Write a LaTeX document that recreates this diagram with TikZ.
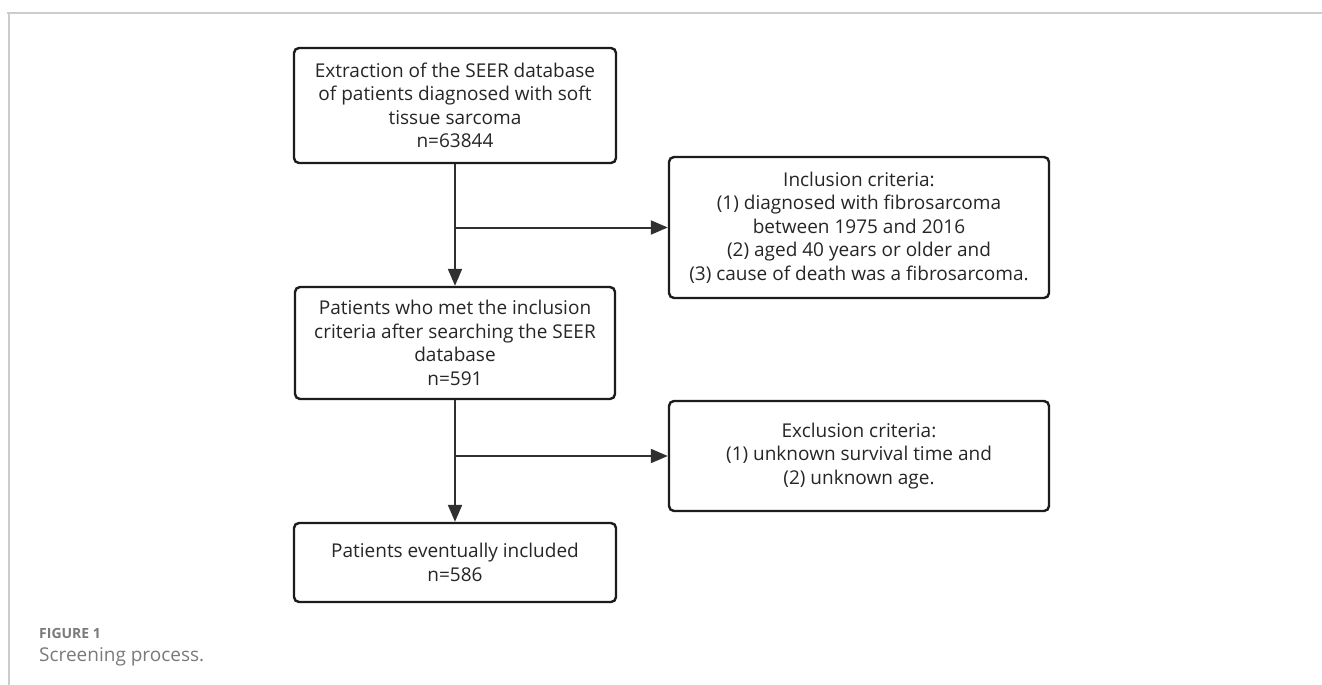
\documentclass[tikz,border=0pt]{standalone}
\usepackage{fontspec}
\setmainfont{Open Sans}
\usetikzlibrary{arrows.meta}
\definecolor{boxline}{HTML}{1C1C1C}
\definecolor{arrowcol}{HTML}{303030}
\definecolor{textcol}{HTML}{262626}
\definecolor{framecol}{HTML}{CCCCCC}
\definecolor{capcol}{HTML}{7A7A7A}
\tikzset{
  flowbox/.style={draw=boxline, line width=2.4pt, rounded corners=5pt, inner sep=0pt,
    align=center, text=textcol, font=\fontsize{19}{23.5}\selectfont},
  flowarrow/.style={draw=arrowcol, line width=2pt, -{Triangle[length=17pt,width=14pt]}}
}
\begin{document}
\begin{tikzpicture}[x=1pt,y=-1pt]
\useasboundingbox (0,0) rectangle (1322,685);
\fill[white] (0,0) rectangle (1322,685);
% frame
\draw[framecol, line width=1.2pt] (7,13) -- (1322,13);
\draw[framecol, line width=1.2pt] (9,13) -- (9,685);
% boxes
\node[flowbox, minimum width=322pt, minimum height=115pt] (b1) at (455,105.5)
  {Extraction of the SEER database\\ of patients diagnosed with soft\\ tissue sarcoma\\ n=63844};
\node[flowbox, minimum width=380pt, minimum height=141pt] (inc) at (859,227.5)
  {Inclusion criteria:\\ (1) diagnosed with fibrosarcoma\\ between 1975 and 2016\\ (2) aged 40 years or older and\\ (3) cause of death was a fibrosarcoma.};
\node[flowbox, minimum width=320pt, minimum height=112pt] (b2) at (455,343)
  {Patients who met the inclusion\\ criteria after searching the SEER\\ database\\ n=591};
\node[flowbox, minimum width=380pt, minimum height=110pt] (exc) at (859,456)
  {Exclusion criteria:\\ (1) unknown survival time and\\ (2) unknown age.};
\node[flowbox, minimum width=322pt, minimum height=79pt] (b3) at (455,562.5)
  {Patients eventually included\\ n=586};
% connectors
\coordinate (j1) at (b1.south |- inc.west);
\coordinate (j2) at (b2.south |- exc.west);
\draw[flowarrow] (b1.south) -- (b2.north);
\draw[flowarrow] (j1) -- (inc.west);
\draw[flowarrow] (b2.south) -- (b3.north);
\draw[flowarrow] (j2) -- (exc.west);
% caption
\node[anchor=west, inner sep=0pt, text=capcol, font=\fontsize{14}{16}\selectfont\bfseries] (fig) at (39,633) {FIGURE 1};
\node[anchor=west, inner sep=0pt, text=capcol, font=\fontsize{19}{22}\selectfont] (cap) at (39,657) {Screening process.};
\end{tikzpicture}
\end{document}
